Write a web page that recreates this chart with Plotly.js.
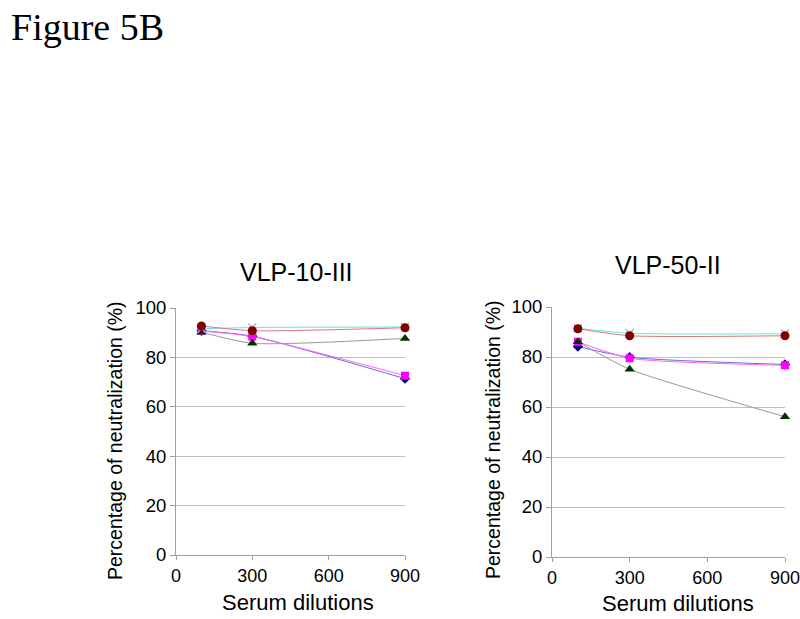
<!DOCTYPE html>
<html>
<head>
<meta charset="utf-8">
<script src="https://cdn.plot.ly/plotly-3.0.1.min.js"></script>
<style>html,body{margin:0;padding:0;background:#fff;}#chart{width:800px;height:619px;}</style>
</head>
<body>
<div id="chart"></div>
<script>
// ---- data ----
var dilutions = [100, 300, 900];
var seriesNames = ["Series 1", "Series 2", "Series 3", "Series 4", "Series 5"];
// VLP-10-III
var left_diamond  = [90.8, 88.6, 71.4];
var left_square   = [90.7, 88.4, 72.6];
var left_triangle = [90.2, 85.7, 87.7];
var left_cross    = [91.6, 92.1, 92.3];
var left_circle   = [92.7, 90.8, 92.0];
// VLP-50-II
var right_diamond  = [84.2, 79.9, 77.0];
var right_square   = [86.1, 79.5, 76.7];
var right_triangle = [86.1, 75.1, 56.1];
var right_cross    = [91.5, 89.5, 89.3];
var right_circle   = [91.3, 88.5, 88.5];
var yTicks = [0, 20, 40, 60, 80, 100];
var xTicks = [0, 300, 600, 900];

var styles = [
  {line: "#6a6ad0", marker: "#000080", symbol: "diamond", size: 8},
  {line: "#ff66ff", marker: "#ff00ff", symbol: "square", size: 8},
  {line: "#9a9a9a", marker: "#003300", symbol: "triangle-up", size: 9},
  {line: "#66e6e6", marker: "#b0a0d0", symbol: "x-thin-open", size: 8},
  {line: "#d87878", marker: "#800000", symbol: "circle", size: 9}
];

function makeTraces(sets, xa, ya) {
  return sets.map(function (vals, i) {
    var s = styles[i];
    return {
      x: dilutions, y: vals, xaxis: xa, yaxis: ya,
      type: "scatter", mode: "lines+markers", name: seriesNames[i], showlegend: false,
      line: {color: s.line, width: 1, shape: "spline", smoothing: 0.6},
      marker: {color: s.marker, symbol: s.symbol, size: s.size,
               line: {color: s.marker, width: s.symbol === "x-thin-open" ? 1.2 : 0}},
      cliponaxis: false
    };
  });
}

var traces = makeTraces([left_diamond, left_square, left_triangle, left_cross, left_circle], "x", "y")
  .concat(makeTraces([right_diamond, right_square, right_triangle, right_cross, right_circle], "x2", "y2"));

function py(px) { return 1 - px / 619; }
function pxx(px) { return px / 800; }

var font = "Liberation Sans, Arial, sans-serif";
function xaxisDef(domain, anchor) {
  return {
    domain: domain, anchor: anchor, range: [0, 900], tickvals: xTicks, ticktext: xTicks.map(String),
    showgrid: false, zeroline: false, showline: true, linecolor: "#a0a0a0", linewidth: 1,
    ticks: "outside", ticklen: 4, tickcolor: "#a0a0a0", ticklabeloverflow: "allow",
    tickfont: {family: font, size: 18, color: "#000"}, fixedrange: true
  };
}
function yaxisDef(domain, anchor) {
  return {
    domain: domain, anchor: anchor, range: [0, 100], tickvals: yTicks, ticktext: yTicks.map(String),
    showgrid: true, gridcolor: "#c0c0c0", gridwidth: 1, zeroline: false,
    showline: true, linecolor: "#a0a0a0", linewidth: 1,
    ticks: "outside", ticklen: 5, tickcolor: "#a0a0a0",
    tickfont: {family: font, size: 18.5, color: "#000"}, fixedrange: true
  };
}

var layout = {
  width: 800, height: 619,
  margin: {l: 0, r: 0, t: 0, b: 0},
  paper_bgcolor: "#fff", plot_bgcolor: "#fff",
  showlegend: false,
  xaxis: xaxisDef([pxx(176), pxx(405)], "y"),
  yaxis: yaxisDef([py(555), py(308)], "x"),
  xaxis2: xaxisDef([pxx(552), pxx(785)], "y2"),
  yaxis2: yaxisDef([py(557), py(307)], "x2"),
  annotations: [
    {text: "Figure 5B", xref: "paper", yref: "paper", x: pxx(9), y: py(27), xanchor: "left", yanchor: "middle",
     showarrow: false, font: {family: "Liberation Serif, Times New Roman, serif", size: 38, color: "#000"}},
    {text: "VLP-10-III", xref: "paper", yref: "paper", x: pxx(296), y: py(272), xanchor: "center", yanchor: "middle",
     showarrow: false, font: {family: font, size: 25, color: "#000"}},
    {text: "VLP-50-II", xref: "paper", yref: "paper", x: pxx(668), y: py(265), xanchor: "center", yanchor: "middle",
     showarrow: false, font: {family: font, size: 25, color: "#000"}},
    {text: "Serum dilutions", xref: "paper", yref: "paper", x: pxx(298), y: py(602), xanchor: "center", yanchor: "middle",
     showarrow: false, font: {family: font, size: 22, color: "#000"}},
    {text: "Serum dilutions", xref: "paper", yref: "paper", x: pxx(678), y: py(603), xanchor: "center", yanchor: "middle",
     showarrow: false, font: {family: font, size: 22, color: "#000"}},
    {text: "Percentage of neutralization (%)", xref: "paper", yref: "paper", x: pxx(115), y: py(440), xanchor: "center", yanchor: "middle",
     textangle: -90, showarrow: false, font: {family: font, size: 19.5, color: "#000"}},
    {text: "Percentage of neutralization (%)", xref: "paper", yref: "paper", x: pxx(493), y: py(440), xanchor: "center", yanchor: "middle",
     textangle: -90, showarrow: false, font: {family: font, size: 19.5, color: "#000"}}
  ]
};

Plotly.newPlot("chart", traces, layout, {displayModeBar: false, staticPlot: true});
</script>
</body>
</html>
